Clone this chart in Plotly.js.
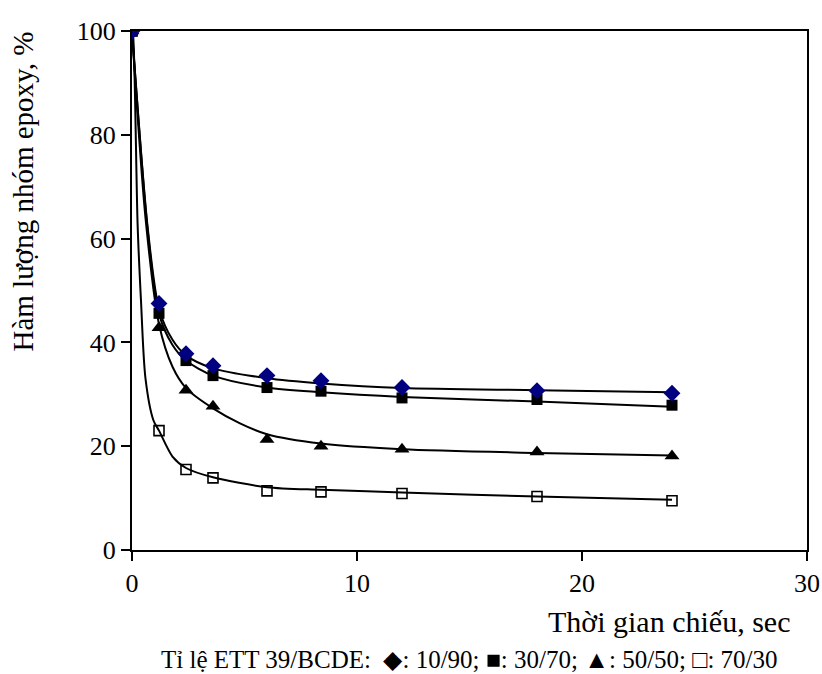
<!DOCTYPE html>
<html>
<head>
<meta charset="utf-8">
<script src="https://cdn.plot.ly/plotly-3.0.1.min.js"></script>
<style>html,body{margin:0;padding:0;background:#fff;}#chart{width:822px;height:674px;}</style>
</head>
<body>
<div id="chart"></div>
<script>
// Measured points (time, sec)
const timeX = [0, 1.2, 2.4, 3.6, 6, 8.4, 12, 18, 24];
const y10_90 = [100, 47.5, 37.8, 35.5, 33.6, 32.6, 31.3, 30.7, 30.2];
const y30_70 = [100, 45.6, 36.5, 33.6, 31.3, 30.6, 29.3, 29.0, 27.9];
const y50_50 = [100, 42.8, 30.8, 27.7, 21.3, 20.0, 19.4, 18.9, 18.1];
const y70_30 = [100, 23.0, 15.5, 13.9, 11.4, 11.2, 10.9, 10.3, 9.5];

// Fitted curves
const fitX_10_90 = [0, 0.7, 1.2, 1.8, 2.4, 3.6, 6, 8.4, 12, 18, 24];
const fitY_10_90 = [100, 62, 46.5, 40.5, 37.5, 35.0, 33.1, 32.1, 31.2, 30.8, 30.4];
const fitX_30_70 = [0, 0.7, 1.2, 1.8, 2.4, 3.6, 6, 8.4, 12, 18, 24];
const fitY_30_70 = [100, 61.5, 45.5, 39.5, 36.5, 33.6, 31.3, 30.4, 29.5, 28.6, 27.6];
const fitX_50_50 = [0, 0.6, 1.2, 1.8, 2.4, 3.6, 4.8, 6, 8.4, 12, 18, 24];
const fitY_50_50 = [100, 64, 43.5, 35.3, 31.2, 27.3, 24.4, 22.3, 20.5, 19.4, 18.7, 18.2];
const fitX_70_30 = [0, 0.05, 0.25, 0.4, 0.6, 0.95, 1.2, 1.8, 2.4, 3.6, 6, 8.4, 12, 18, 24];
const fitY_70_30 = [100, 99, 62.6, 48, 33, 25, 23, 18, 15.8, 14, 12.1, 11.6, 11.1, 10.3, 9.7];

const xTicks = [0, 10, 20, 30];
const yTicks = [0, 20, 40, 60, 80, 100];

const FONT = 'Liberation Serif, Times New Roman, serif';
const lineStyle = {color: '#000', width: 2, shape: 'spline', smoothing: 0.8};

const traces = [
  {x: fitX_70_30, y: fitY_70_30, mode: 'lines', line: lineStyle, hoverinfo: 'skip'},
  {x: fitX_50_50, y: fitY_50_50, mode: 'lines', line: lineStyle, hoverinfo: 'skip'},
  {x: fitX_30_70, y: fitY_30_70, mode: 'lines', line: lineStyle, hoverinfo: 'skip'},
  {x: fitX_10_90, y: fitY_10_90, mode: 'lines', line: lineStyle, hoverinfo: 'skip'},
  {x: timeX, y: y70_30, mode: 'markers', name: '70/30',
   marker: {symbol: 'square-open', size: 10, color: '#000', line: {width: 1.6, color: '#000'}}},
  {x: timeX, y: y50_50, mode: 'markers', name: '50/50',
   marker: {symbol: 'triangle-up', size: 13, color: '#000'}},
  {x: timeX, y: y30_70, mode: 'markers', name: '30/70',
   marker: {symbol: 'square', size: 11, color: '#000'}},
  {x: timeX, y: y10_90, mode: 'markers', name: '10/90',
   marker: {symbol: 'diamond', size: 13, color: '#000080'}}
];

const layout = {
  width: 822, height: 674,
  margin: {l: 132, r: 15, t: 31, b: 124},
  paper_bgcolor: '#fff', plot_bgcolor: '#fff',
  showlegend: false,
  font: {family: FONT, size: 25, color: '#000'},
  xaxis: {
    range: [0, 30], tickvals: xTicks, ticktext: xTicks.map(String),
    showgrid: false, zeroline: false, showline: true, mirror: true,
    linecolor: '#000', linewidth: 2, ticks: 'outside', ticklen: 9, tickwidth: 2, tickcolor: '#000',
    tickfont: {family: FONT, size: 26, color: '#000'}
  },
  yaxis: {
    range: [0, 100], tickvals: yTicks, ticktext: yTicks.map(String),
    showgrid: false, zeroline: false, showline: true, mirror: true,
    linecolor: '#000', linewidth: 2, ticks: 'outside', ticklen: 9, tickwidth: 2, tickcolor: '#000',
    tickfont: {family: FONT, size: 26, color: '#000'}
  },
  annotations: [
    {text: 'Hàm lượng nhóm epoxy, %', xref: 'paper', yref: 'paper', x: -0.162, y: 0.69,
     textangle: -90, showarrow: false, font: {family: FONT, size: 29, color: '#000'},
     xanchor: 'center', yanchor: 'middle'},
    {text: 'Thời gian chiếu, sec', xref: 'paper', yref: 'paper', x: 0.978, y: -0.137,
     showarrow: false, font: {family: FONT, size: 30, color: '#000'}, xanchor: 'right', yanchor: 'middle'},
    {text: 'Tỉ lệ ETT 39/BCDE:  ◆: 10/90; ■: 30/70; ▲: 50/50; □: 70/30', xref: 'paper', yref: 'paper',
     x: 0.5, y: -0.211, showarrow: false, font: {family: FONT, size: 25, color: '#000'},
     xanchor: 'center', yanchor: 'middle'}
  ]
};

Plotly.newPlot('chart', traces, layout, {displayModeBar: false, staticPlot: true});
</script>
</body>
</html>
